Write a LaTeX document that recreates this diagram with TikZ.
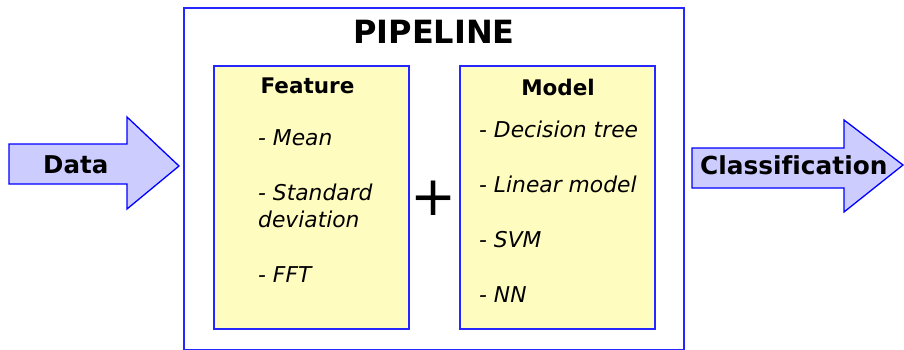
\documentclass[tikz,border=0pt]{standalone}
\usepackage{fontspec}
\setmainfont{DejaVu Sans}[Ligatures=NoCommon]
\begin{document}
\begin{tikzpicture}[x=1pt,y=-1pt,
  frame/.style={draw=blue!85!white, line width=1.4pt},
  card/.style={frame, fill=yellow!25!white},
  flow/.style={draw=blue, line width=1.3pt, fill=blue!20!white, line join=miter},
  heading/.style={font=\fontsize{21.5}{26}\selectfont\bfseries, anchor=base},
  item/.style={font=\fontsize{21.8}{27}\selectfont\itshape, anchor=base west, inner sep=0pt},
  flowtext/.style={font=\bfseries, anchor=base west, inner sep=0pt}]
\useasboundingbox (0,0) rectangle (904,350);

% outer pipeline frame
\draw[frame, line width=1.2pt] (184,8) rectangle (684,349.5);
\node[font=\fontsize{32}{38}\selectfont\bfseries, anchor=base] (title) at (434,44) {PIPELINE};

% feature card
\draw[card] (214,66) rectangle (409,329);
\node[heading] (feat) at (307.5,94) {Feature};
\node[item] (mean) at (258,145) {- Mean};
\node[item] (std) at (258,200) {- Standard};
\node[item] (dev) at (258,227) {deviation};
\node[item] (fft) at (258,282) {- FFT};

% plus sign
\node[font=\fontsize{55}{60}\selectfont, inner sep=0pt] (plus) at (434,198) {+};

% model card
\draw[card] (460,66) rectangle (655,329);
\node[heading] (model) at (558,96) {Model};
\node[item] (tree) at (479,137) {- Decision tree};
\node[item] (lin) at (479,192) {- Linear model};
\node[item] (svm) at (479,247) {- SVM};
\node[item] (nn) at (479,302) {- NN};

% input arrow
\draw[flow] (9,144) -- (127,144) -- (127,117) -- (179,166) -- (127,209)
  -- (127,184) -- (9,184) -- cycle;
\node[flowtext, font=\fontsize{24.5}{29}\selectfont\bfseries] (data) at (43,173) {Data};

% output arrow
\draw[flow] (692,148) -- (844,148) -- (844,120) -- (903,165) -- (844,212)
  -- (844,188) -- (692,188) -- cycle;
\node[flowtext, font=\fontsize{24.8}{30}\selectfont\bfseries] (cls) at (700,174) {Classification};
\end{tikzpicture}
\end{document}
